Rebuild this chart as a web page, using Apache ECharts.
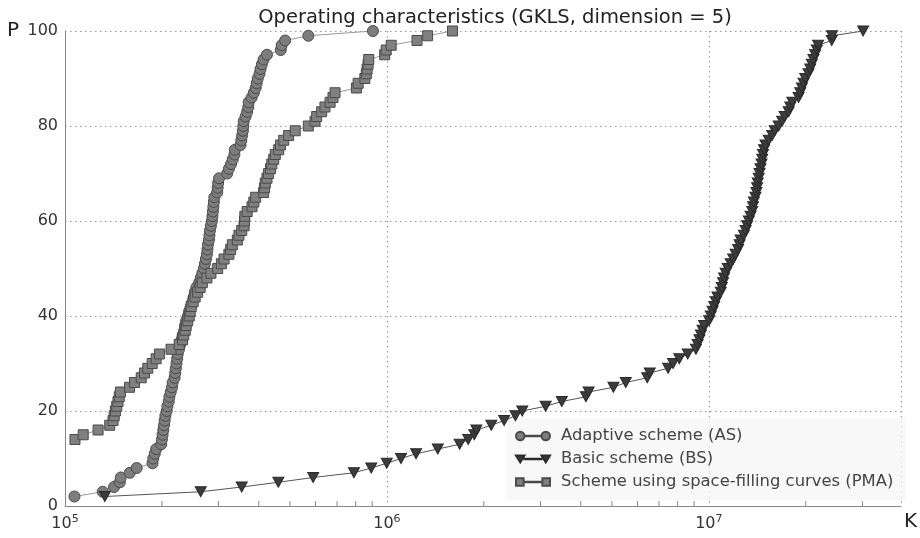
<!DOCTYPE html>
<html>
<head>
<meta charset="utf-8">
<script src="https://cdn.jsdelivr.net/npm/echarts@6/dist/echarts.min.js"></script>
<style>html,body{margin:0;padding:0;background:#fff}#c{width:920px;height:538px}</style>
</head>
<body>
<div id="c"></div>
<script>
const titleText = 'Operating characteristics (GKLS, dimension = 5)';
const seriesNames = ['Adaptive scheme (AS)', 'Basic scheme (BS)', 'Scheme using space-filling curves (PMA)'];
const yTicks = [0, 20, 40, 60, 80, 100];
const minorTickValues = [2e5,3e5,4e5,5e5,6e5,7e5,8e5,9e5,2e6,3e6,4e6,5e6,6e6,7e6,8e6,9e6,2e7,3e7];

// [K, P]
const asData = [
[1.07e5,2],[1.31e5,3],[1.42e5,4],[1.48e5,5],[1.49e5,6],[1.59e5,7],[1.67e5,8],[1.87e5,9],[1.88e5,10],
[1.90e5,11],[1.92e5,12],[1.99e5,13],[2.00e5,14],[2.01e5,15],[2.02e5,16],[2.03e5,17],[2.04e5,18],[2.05e5,19],
[2.07e5,20],[2.08e5,21],[2.10e5,22],[2.11e5,23],[2.13e5,24],[2.15e5,25],[2.16e5,26],[2.19e5,27],[2.20e5,28],
[2.21e5,29],[2.22e5,30],[2.23e5,31],[2.24e5,32],[2.26e5,33],[2.28e5,34],[2.30e5,35],[2.32e5,36],[2.35e5,37],
[2.36e5,38],[2.38e5,39],[2.41e5,40],[2.43e5,41],[2.46e5,42],[2.49e5,43],[2.51e5,44],[2.53e5,45],[2.56e5,46],
[2.61e5,47],[2.64e5,48],[2.67e5,49],[2.70e5,50],[2.72e5,51],[2.74e5,52],[2.76e5,53],[2.77e5,54],[2.78e5,55],
[2.80e5,56],[2.81e5,57],[2.82e5,58],[2.84e5,59],[2.86e5,60],[2.87e5,61],[2.88e5,62],[2.89e5,63],[2.90e5,64],
[2.91e5,65],[2.97e5,66],[2.98e5,67],[2.99e5,68],[3.01e5,69],[3.19e5,70],[3.23e5,71],[3.28e5,72],[3.32e5,73],
[3.36e5,74],[3.37e5,75],[3.51e5,76],[3.53e5,77],[3.55e5,78],[3.57e5,79],[3.58e5,80],[3.59e5,81],[3.64e5,82],
[3.68e5,83],[3.71e5,84],[3.72e5,85],[3.80e5,86],[3.86e5,87],[3.91e5,88],[3.94e5,89],[3.97e5,90],[4.02e5,91],
[4.05e5,92],[4.09e5,93],[4.14e5,94],[4.24e5,95],[4.68e5,96],[4.71e5,97],[4.83e5,98],[5.70e5,99],[9.05e5,100]
];

const bsData = [
[1.33e5,2],[2.64e5,3],[3.54e5,4],[4.60e5,5],[5.90e5,6],[7.90e5,7],[8.94e5,8],[9.99e5,9],[1.106e6,10],
[1.232e6,11],[1.439e6,12],[1.683e6,13],[1.789e6,14],[1.869e6,15],[1.896e6,16],[2.110e6,17],[2.313e6,18],
[2.508e6,19],[2.633e6,20],[3.113e6,21],[3.494e6,22],[4.152e6,23],[4.232e6,24],[5.054e6,25],[5.521e6,26],
[6.437e6,27],[6.553e6,28],[7.473e6,29],[7.743e6,30],[8.097e6,31],[8.60e6,32],[9.12e6,33],[9.23e6,34],
[9.35e6,35],[9.45e6,36],[9.56e6,37],[9.67e6,38],[1.002e7,39],[1.014e7,40],[1.027e7,41],[1.039e7,42],
[1.051e7,43],[1.064e7,44],[1.089e7,45],[1.097e7,46],[1.107e7,47],[1.115e7,48],[1.128e7,49],[1.145e7,50],
[1.169e7,51],[1.190e7,52],[1.211e7,53],[1.233e7,54],[1.246e7,55],[1.255e7,56],[1.285e7,57],[1.301e7,58],
[1.316e7,59],[1.331e7,60],[1.348e7,61],[1.364e7,62],[1.372e7,63],[1.380e7,64],[1.396e7,65],[1.406e7,66],
[1.413e7,67],[1.419e7,68],[1.429e7,69],[1.437e7,70],[1.447e7,71],[1.458e7,72],[1.465e7,73],[1.473e7,74],
[1.484e7,75],[1.500e7,76],[1.535e7,77],[1.573e7,78],[1.602e7,79],[1.648e7,80],[1.689e7,81],[1.720e7,82],
[1.770e7,83],[1.791e7,84],[1.817e7,85],[1.900e7,86],[1.923e7,87],[1.946e7,88],[1.969e7,89],[1.993e7,90],
[2.040e7,91],[2.065e7,92],[2.089e7,93],[2.113e7,94],[2.139e7,95],[2.165e7,96],[2.185e7,97],[2.409e7,98],
[2.414e7,99],[3.015e7,100]
];

const pmaData = [
[1.074e5,14],[1.139e5,15],[1.267e5,16],[1.377e5,17],[1.410e5,18],[1.422e5,19],[1.434e5,20],[1.448e5,21],
[1.461e5,22],[1.474e5,23],[1.486e5,24],[1.587e5,25],[1.644e5,26],[1.725e5,27],[1.766e5,28],[1.808e5,29],
[1.866e5,30],[1.919e5,31],[1.965e5,32],[2.135e5,33],[2.264e5,34],[2.318e5,35],[2.338e5,36],[2.363e5,37],
[2.380e5,38],[2.406e5,39],[2.432e5,40],[2.449e5,41],[2.466e5,42],[2.501e5,43],[2.537e5,44],[2.582e5,45],
[2.629e5,46],[2.67e5,47],[2.76e5,48],[2.84e5,49],[2.98e5,50],[3.06e5,51],[3.12e5,52],[3.23e5,53],[3.27e5,54],
[3.31e5,55],[3.43e5,56],[3.47e5,57],[3.54e5,58],[3.60e5,59],[3.61e5,60],[3.62e5,61],[3.68e5,62],[3.81e5,63],
[3.86e5,64],[3.91e5,65],[4.14e5,66],[4.17e5,67],[4.19e5,68],[4.24e5,69],[4.29e5,70],[4.35e5,71],[4.39e5,72],
[4.45e5,73],[4.50e5,74],[4.61e5,75],[4.67e5,76],[4.78e5,77],[4.95e5,78],[5.19e5,79],[5.70e5,80],[5.98e5,81],
[6.05e5,82],[6.27e5,83],[6.42e5,84],[6.66e5,85],[6.80e5,86],[6.90e5,87],[8.04e5,88],[8.14e5,89],[8.54e5,90],
[8.63e5,91],[8.68e5,92],[8.74e5,93],[8.78e5,94],[9.84e5,95],[9.95e5,96],[1.031e6,97],[1.24e6,98],[1.338e6,99],
[1.599e6,100]
];

const FONT = 'DejaVu Sans';
const chart = echarts.init(document.getElementById('c'), null, {renderer: 'canvas'});

const iconCircle = 'path://M0,5a5,5 0 1,0 10,0a5,5 0 1,0 -10,0M10,4.6L30,4.6L30,5.4L10,5.4ZM30,5a5,5 0 1,0 10,0a5,5 0 1,0 -10,0';
const iconTri = 'path://M0,1L10,1L5,9ZM10,4.6L30,4.6L30,5.4L10,5.4ZM30,1L40,1L35,9Z';
const iconRect = 'path://M0,0.5L9,0.5L9,9.5L0,9.5ZM9,4.6L31,4.6L31,5.4L9,5.4ZM31,0.5L40,0.5L40,9.5L31,9.5Z';

const option = {
  animation: false,
  textStyle: {fontFamily: FONT},
  title: {
    text: titleText, left: 490, top: 3, textAlign: 'center',
    textStyle: {fontFamily: FONT, fontSize: 19.5, fontWeight: 'normal', color: '#222'}
  },
  grid: {left: 65, right: 12, top: 31, bottom: 32, containLabel: false},
  legend: {
    orient: 'vertical', left: 507, top: 418,
    padding: [10, 12, 10, 8],
    backgroundColor: 'rgba(245,245,245,0.75)',
    itemWidth: 34, itemHeight: 10, itemGap: 7,
    textStyle: {fontFamily: FONT, fontSize: 16.4, color: '#444', padding: [0, 0, 0, 6]},
    data: [
      {name: seriesNames[0], icon: iconCircle},
      {name: seriesNames[1], icon: iconTri},
      {name: seriesNames[2], icon: iconRect}
    ]
  },
  xAxis: {
    type: 'log', logBase: 10, min: 1e5, max: 3.95e7,
    name: 'K', nameLocation: 'end', nameGap: 3,
    nameTextStyle: {fontFamily: FONT, fontSize: 20, color: '#222', verticalAlign: 'top', padding: [6, 0, 0, 0]},
    axisLine: {show: true, lineStyle: {color: '#888', width: 1}},
    axisTick: {show: false},
    splitLine: {show: true, lineStyle: {color: '#999', type: [1.5, 3.5], width: 1}},
    axisLabel: {
      margin: 8, color: '#333',
      formatter: function (v) {
        const l = Math.log10(v); const e = Math.round(l);
        if (Math.abs(l - e) > 1e-6) return '';
        return '{b|10}{s|' + e + '}';
      },
      rich: {
        b: {fontFamily: FONT, fontSize: 16, color: '#333'},
        s: {fontFamily: FONT, fontSize: 11, color: '#333', verticalAlign: 'bottom', padding: [0, 0, 9, 0]}
      }
    }
  },
  yAxis: {
    type: 'value', min: 0, max: 100, interval: 20,
    name: 'P', nameLocation: 'end', nameGap: 0,
    nameTextStyle: {fontFamily: FONT, fontSize: 20, color: '#222', align: 'right', verticalAlign: 'middle', padding: [0, 46, 0, 0]},
    axisLine: {show: true, lineStyle: {color: '#888', width: 1}},
    axisTick: {show: false},
    splitLine: {show: true, lineStyle: {color: '#999', type: [1.5, 3.5], width: 1}},
    axisLabel: {fontFamily: FONT, fontSize: 16, color: '#333', margin: 7,
      formatter: function (v) { return yTicks.indexOf(v) >= 0 ? String(v) : ''; }}
  },
  series: [
    {
      name: seriesNames[0], type: 'line', data: asData,
      symbol: 'circle', symbolSize: 11, showAllSymbol: true,
      lineStyle: {color: '#9a9a9a', width: 1},
      itemStyle: {color: '#7d7d7d', borderColor: '#4a4a4a', borderWidth: 1},
      z: 3
    },
    {
      name: seriesNames[1], type: 'line', data: bsData,
      symbol: 'triangle', symbolRotate: 180, symbolSize: [11, 10], showAllSymbol: true,
      lineStyle: {color: '#555', width: 1},
      itemStyle: {color: '#3c3c3c', borderColor: '#2a2a2a', borderWidth: 1},
      z: 4
    },
    {
      name: seriesNames[2], type: 'line', data: pmaData,
      symbol: 'rect', symbolSize: 10, showAllSymbol: true,
      lineStyle: {color: '#9a9a9a', width: 1},
      itemStyle: {color: '#808080', borderColor: '#4a4a4a', borderWidth: 1},
      z: 5
    },
    {
      name: 'minorTicks', type: 'custom', silent: true, z: 2,
      data: minorTickValues.map(function (v) { return [v, 0]; }),
      renderItem: function (params, api) {
        const p = api.coord([api.value(0), api.value(1)]);
        return {type: 'line', shape: {x1: p[0], y1: p[1], x2: p[0], y2: p[1] - 5},
          style: {stroke: '#888', lineWidth: 1}};
      }
    }
  ]
};
chart.setOption(option);
</script>
</body>
</html>
